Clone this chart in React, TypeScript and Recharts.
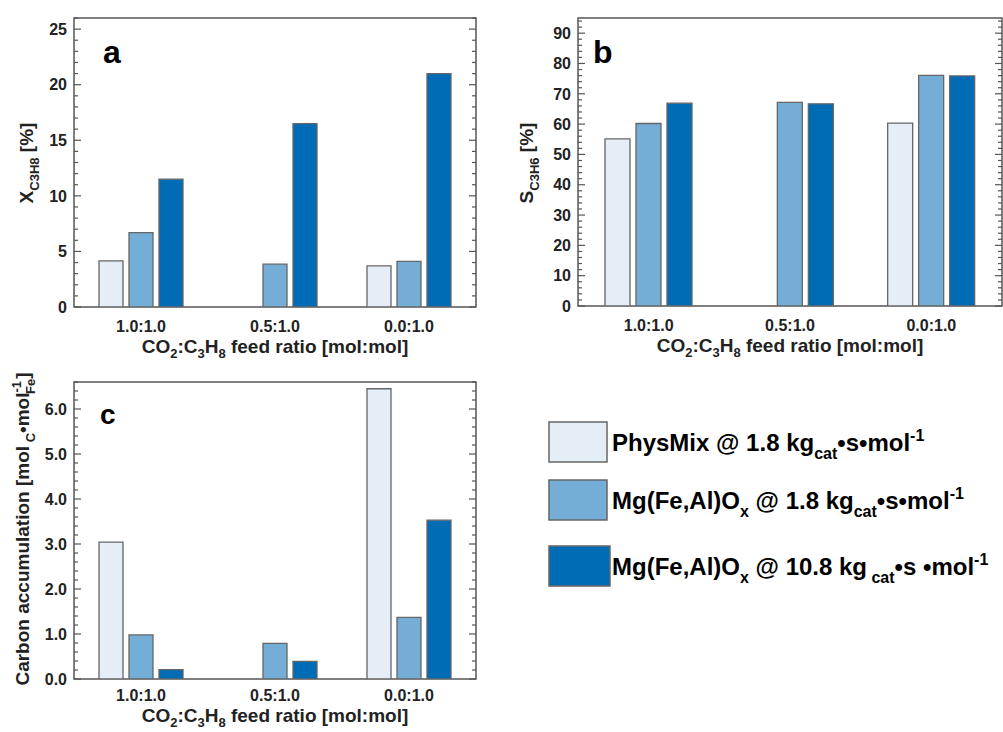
import React from "react";
import { BarChart, Bar, XAxis, YAxis, ReferenceArea, Legend } from "recharts";

const categories = ["1.0:1.0", "0.5:1.0", "0.0:1.0"];
const seriesKeys = ["physMix", "mg18", "mg108"];
const seriesNames = [
  "PhysMix @ 1.8 kgcat•s•mol-1",
  "Mg(Fe,Al)Ox @ 1.8 kgcat•s•mol-1",
  "Mg(Fe,Al)Ox @ 10.8 kgcat•s•mol-1",
];
const seriesColors = ["#e5eef6", "#74add6", "#006cb6"];

// Panel a: propane conversion [%]
const conversionPhysMix = [4.15, 0, 3.7];
const conversionMg18 = [6.7, 3.85, 4.1];
const conversionMg108 = [11.5, 16.5, 21.0];
// Panel b: propylene selectivity [%]
const selectivityPhysMix = [55.1, 0, 60.3];
const selectivityMg18 = [60.2, 67.2, 76.1];
const selectivityMg108 = [66.9, 66.7, 75.9];
// Panel c: carbon accumulation
const carbonPhysMix = [3.04, 0, 6.45];
const carbonMg18 = [0.98, 0.79, 1.37];
const carbonMg108 = [0.21, 0.39, 3.53];

const conversionMajorTicks = [0, 5, 10, 15, 20, 25];
const selectivityMajorTicks = [0, 10, 20, 30, 40, 50, 60, 70, 80, 90];
const carbonMajorTicks = [0, 1, 2, 3, 4, 5, 6];

const FONT = "'Liberation Sans', Arial, sans-serif";
const TEXT = "#222";
const FRAME = "#555";

function buildTicks(max: number, step: number) {
  const out: number[] = [];
  const n = Math.floor(max / step + 1e-6);
  for (let i = 0; i <= n; i++) out.push(Math.round(i * step * 1000) / 1000);
  return out;
}

type Seg = { t: string; sub?: boolean; sup?: boolean };

function RichText({ segs, size, subSize, subShift, supShift }: any) {
  let level = 0;
  return (
    <>
      {segs.map((s: Seg, i: number) => {
        const target = s.sub ? subShift : s.sup ? -supShift : 0;
        const dy = target - level;
        level = target;
        return (
          <tspan key={i} dy={dy} fontSize={s.sub || s.sup ? subSize : size}>
            {s.t}
          </tspan>
        );
      })}
    </>
  );
}

const xTitleSegs: Seg[] = [
  { t: "CO" }, { t: "2", sub: true }, { t: ":C" }, { t: "3", sub: true }, { t: "H" }, { t: "8", sub: true }, { t: " feed ratio [mol:mol]" },
];

const legendSegs: Seg[][] = [
  [{ t: "PhysMix @ 1.8 kg" }, { t: "cat", sub: true }, { t: "•s•mol" }, { t: "-1", sup: true }],
  [{ t: "Mg(Fe,Al)O" }, { t: "x", sub: true }, { t: " @ 1.8 kg" }, { t: "cat", sub: true }, { t: "•s•mol" }, { t: "-1", sup: true }],
  [{ t: "Mg(Fe,Al)O" }, { t: "x", sub: true }, { t: " @ 10.8 kg" }, { t: " cat", sub: true }, { t: "•s •mol" }, { t: "-1", sup: true }],
];

function YTitleA() {
  return (
    <g>
      <text transform="translate(33,163) rotate(-90)" textAnchor="middle" fontFamily={FONT} fontWeight="bold" fill={TEXT}>
        <RichText segs={[{ t: "X" }, { t: "C3H8", sub: true }, { t: " [%]" }]} size={19} subSize={13} subShift={6} supShift={8} />
      </text>
      <text x={103} y={63} fontFamily={FONT} fontWeight="bold" fontSize={32} fill="#000">a</text>
    </g>
  );
}

function YTitleB() {
  return (
    <g>
      <text transform="translate(33,163) rotate(-90)" textAnchor="middle" fontFamily={FONT} fontWeight="bold" fill={TEXT}>
        <RichText segs={[{ t: "S" }, { t: "C3H6", sub: true }, { t: " [%]" }]} size={19} subSize={13} subShift={6} supShift={8} />
      </text>
      <text x={93} y={63} fontFamily={FONT} fontWeight="bold" fontSize={32} fill="#000">b</text>
    </g>
  );
}

function YTitleC() {
  return (
    <g>
      <text transform="translate(29,189) rotate(-90)" textAnchor="middle" fontFamily={FONT} fontWeight="bold" fill={TEXT} fontSize={19}>
        <tspan>Carbon accumulation [mol</tspan>
        <tspan dy={6} fontSize={13}> C</tspan>
        <tspan dy={-6}>•mol</tspan>
        <tspan dy={-8} fontSize={13}>-1</tspan>
        <tspan dx={-13} dy={14} fontSize={13}>Fe</tspan>
        <tspan dy={-6}>]</tspan>
      </text>
      <text x={100} y={84} fontFamily={FONT} fontWeight="bold" fontSize={28} fill="#000">c</text>
    </g>
  );
}

function XTitle({ titleX, titleY }: any) {
  return (
    <text x={titleX} y={titleY} textAnchor="middle" fontFamily={FONT} fontWeight="bold" fill={TEXT}>
      <RichText segs={xTitleSegs} size={19} subSize={13} subShift={5} supShift={8} />
    </text>
  );
}

function LegendContent(props: any) {
  const payload = props.payload || [];
  const rowTop = [12, 70, 136];
  const boxW = [58, 58, 61];
  return (
    <svg width={463} height={190} style={{ display: "block" }}>
      {payload.map((entry: any, i: number) => {
        const idx = seriesNames.indexOf(entry.value);
        const k = idx >= 0 ? idx : i;
        return (
          <g key={i}>
            <rect x={9} y={rowTop[k]} width={boxW[k]} height={40} fill={entry.color} stroke="#666" strokeWidth={1.5} />
            <text x={72} y={rowTop[k] + 29} fontFamily={FONT} fontWeight="bold" fill="#000">
              <RichText segs={legendSegs[k]} size={24} subSize={16} subShift={8} supShift={10} />
            </text>
          </g>
        );
      })}
    </svg>
  );
}

function Panel(p: any) {
  const {
    left, top, width, height, plotLeft, plotRight, plotTop, plotBottom,
    values, domainMax, majorTicks, minorStep, decimals, barSize, yTitle, withLegend, titleGap, tickGap,
  } = p;
  const data = categories.map((c, i) => ({
    ratio: c,
    physMix: values[0][i],
    mg18: values[1][i],
    mg108: values[2][i],
  }));
  const allTicks = buildTicks(domainMax, minorStep);
  const isMajor = (v: number) => majorTicks.some((m: number) => Math.abs(m - v) < 1e-6);
  const renderYTick = (tp: any) => {
    const y = tp.y;
    const v = tp.payload.value;
    const major = isMajor(v);
    const len = major ? 7 : 4;
    return (
      <g>
        <line x1={plotLeft} x2={plotLeft + len} y1={y} y2={y} stroke={FRAME} strokeWidth={1.2} />
        <line x1={plotRight} x2={plotRight - len} y1={y} y2={y} stroke={FRAME} strokeWidth={1.2} />
        {major && (
          <text x={plotLeft - 7} y={y} dy="0.36em" textAnchor="end" fontFamily={FONT} fontWeight="bold" fontSize={16} fill={TEXT}>
            {v.toFixed(decimals)}
          </text>
        )}
      </g>
    );
  };
  const renderXTick = (tp: any) => (
    <text x={tp.x} y={plotBottom + tickGap} textAnchor="middle" fontFamily={FONT} fontWeight="bold" fontSize={16} fill={TEXT}>
      {tp.payload.value}
    </text>
  );
  return (
    <div style={{ position: "absolute", left, top, width, height }}>
      <BarChart
        width={width}
        height={height}
        data={data}
        margin={{ top: plotTop, right: width - plotRight, left: 0, bottom: 0 }}
        barSize={barSize}
        barGap={6}
      >
        <XAxis
          dataKey="ratio"
          height={height - plotBottom}
          axisLine={false}
          tickLine={false}
          interval={0}
          tick={renderXTick}
          label={<XTitle titleX={(plotLeft + plotRight) / 2} titleY={plotBottom + titleGap} />}
        />
        <YAxis
          type="number"
          domain={[0, domainMax]}
          ticks={allTicks}
          interval={0}
          width={plotLeft}
          axisLine={false}
          tickLine={false}
          allowDataOverflow
          tick={renderYTick}
          label={yTitle}
        />
        <ReferenceArea y1={0} y2={domainMax} fill="none" stroke={FRAME} strokeWidth={1.5} ifOverflow="visible" />
        {seriesKeys.map((k, i) => (
          <Bar
            key={k}
            dataKey={k}
            name={seriesNames[i]}
            fill={seriesColors[i]}
            stroke="#666"
            strokeWidth={1.3}
            isAnimationActive={false}
          />
        ))}
        {withLegend && (
          <Legend
            layout="vertical"
            align="center"
            verticalAlign="middle"
            content={<LegendContent />}
            wrapperStyle={{ position: "absolute", left: 540, top: 70, width: 463, height: 190 }}
          />
        )}
      </BarChart>
    </div>
  );
}

export default function App() {
  return (
    <div style={{ position: "absolute", left: 0, top: 0, width: 1003, height: 732, background: "#fff", overflow: "hidden" }}>
      <Panel
        left={0} top={0} width={500} height={370}
        plotLeft={74} plotRight={476} plotTop={18} plotBottom={307}
        values={[conversionPhysMix, conversionMg18, conversionMg108]}
        domainMax={26} majorTicks={conversionMajorTicks} minorStep={1} decimals={0}
        barSize={24} yTitle={<YTitleA />} titleGap={46} tickGap={25}
      />
      <Panel
        left={500} top={0} width={503} height={370}
        plotLeft={78} plotRight={502} plotTop={18} plotBottom={306}
        values={[selectivityPhysMix, selectivityMg18, selectivityMg108]}
        domainMax={95} majorTicks={selectivityMajorTicks} minorStep={2} decimals={0}
        barSize={25} yTitle={<YTitleB />} titleGap={46} tickGap={25}
      />
      <Panel
        left={0} top={340} width={1003} height={392}
        plotLeft={74} plotRight={476} plotTop={42} plotBottom={339}
        values={[carbonPhysMix, carbonMg18, carbonMg108]}
        domainMax={6.6} majorTicks={carbonMajorTicks} minorStep={0.2} decimals={1}
        barSize={24} yTitle={<YTitleC />} withLegend titleGap={43} tickGap={22}
      />
    </div>
  );
}
